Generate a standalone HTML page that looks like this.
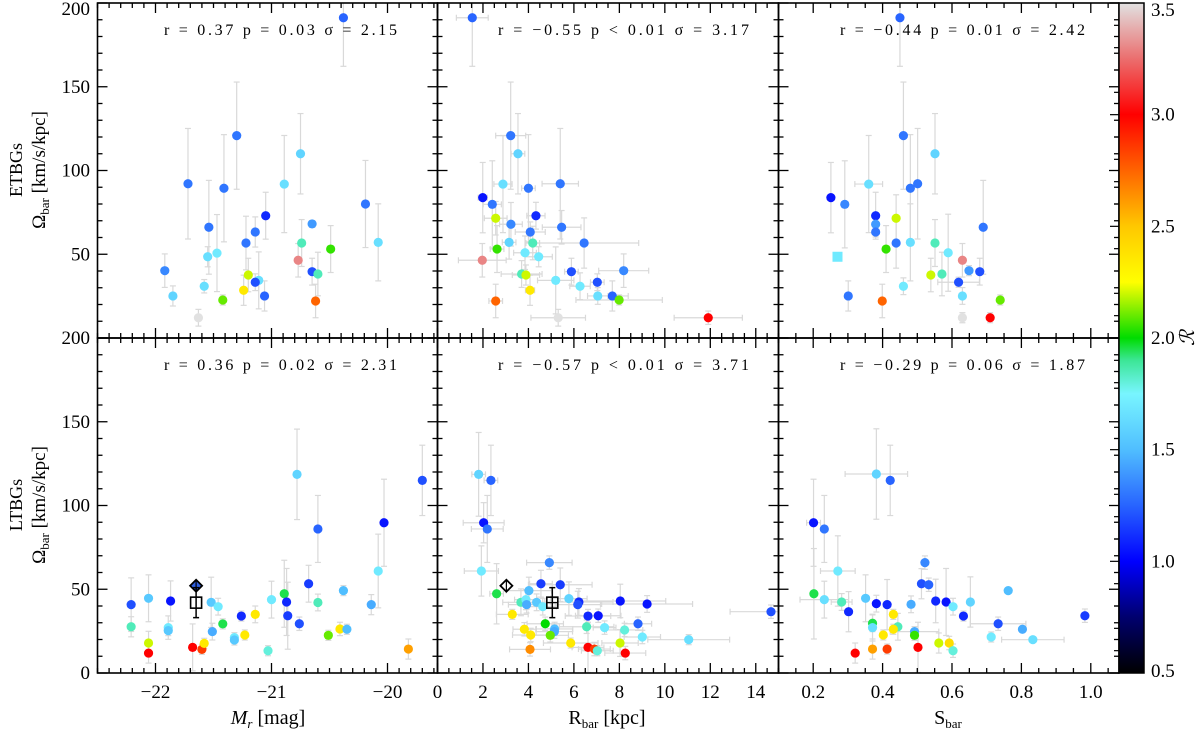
<!DOCTYPE html>
<html><head><meta charset="utf-8"><style>
body{margin:0;background:#fff}
svg{display:block}
text{font-family:"Liberation Serif","DejaVu Serif",serif;fill:#000}
</style></head><body>
<svg id="chart" width="1200" height="731" viewBox="0 0 1200 731" xmlns="http://www.w3.org/2000/svg">
<defs>
<linearGradient id="cbg" x1="0" y1="1" x2="0" y2="0">
<stop offset="0" stop-color="#000000"/><stop offset="0.0833" stop-color="#00006e"/><stop offset="0.1667" stop-color="#0000ff"/><stop offset="0.25" stop-color="#2864ff"/><stop offset="0.3333" stop-color="#50beff"/><stop offset="0.4167" stop-color="#78f5ff"/><stop offset="0.4667" stop-color="#3ce696"/><stop offset="0.5" stop-color="#00dc00"/><stop offset="0.5833" stop-color="#ffff00"/><stop offset="0.6667" stop-color="#ffc800"/><stop offset="0.75" stop-color="#ff6400"/><stop offset="0.8333" stop-color="#ff0000"/><stop offset="0.9167" stop-color="#eb6e6e"/><stop offset="1" stop-color="#e1e1e1"/>
</linearGradient>
</defs>
</svg>
<script>
// ---------- data ----------
const tlX=[-20.38,-21.30,-21.72,-21.41,-20.75,-20.89,-20.19,-20.08,-21.05,-21.54,-21.14,-20.65,-21.22,-20.74,-20.49,-21.47,-21.55,-21.92,-20.77,-20.65,-20.60,-21.20,-21.11,-21.14,-21.58,-21.24,-21.85,-21.06,-21.42,-20.62,-21.63];
const tlY=[191.2,120.8,92.1,89.4,110,91.9,80,57.1,73,66.1,63.3,68.1,56.7,56.7,53.1,50.7,48.5,40.2,46.4,39.6,38.2,37.6,34.4,33.3,30.9,28.5,25.1,25.1,22.7,22.1,12.1];
const tlC=[1.25,1.3,1.3,1.3,1.6,1.65,1.3,1.65,1.1,1.3,1.3,1.4,1.3,1.85,2.05,1.7,1.65,1.35,3.3,1.2,1.85,2.2,1.65,1.2,1.65,2.35,1.6,1.25,2.1,2.75,3.5];
const tlE=[29,32,33,32,24,29,26,23,14,28,9,2,16,14,14,23,6,10,10,8,13,10,17,5,4,9,6,9,3,10,5];

const tmX=[1.53,3.22,3.54,2.88,4.00,5.40,1.99,2.41,2.56,4.33,3.23,4.08,5.46,3.15,4.19,6.45,2.62,3.85,4.45,1.97,5.89,8.19,3.70,3.89,5.20,7.03,4.07,6.27,7.05,7.69,7.99,2.56,5.31,11.91];
const tmY=[191.2,120.8,110,91.9,89.4,92.1,83.8,79.8,71.5,73,67.9,63.3,66.1,57.1,56.7,56.7,53.1,50.9,48.5,46.4,39.6,40.2,38.2,37.6,34.4,33.3,28.5,30.9,25.1,25.1,22.7,22.1,12.1,12.1];
const tmXE=[0.7,0.66,0.3,0.4,0.3,0.8,0.2,0.4,0.5,0.4,0.5,0.66,0.85,0.3,0.3,2.4,0.3,0.5,0.6,1.05,0.3,1.1,0.9,0.6,0.8,0.3,0.2,0.45,0.45,0.7,1.9,0.3,1.2,1.5];
const tmYE=[29,32,24,29,32,33,21,26,10,8,13,6,10,10,10,15,14,10,6,10,8,10,8,6,20,5,9,8,5,9,3,10,5,4];
const tmC=[1.25,1.3,1.6,1.65,1.3,1.3,1.05,1.3,2.2,1.1,1.35,1.3,1.3,1.6,1.85,1.3,2.05,1.7,1.7,3.3,1.2,1.35,1.85,2.2,1.7,1.2,2.35,1.7,1.65,1.25,2.1,2.75,3.5,3.0];

const trX=[0.450,0.460,0.551,0.360,0.480,0.501,0.251,0.291,0.439,0.380,0.380,0.380,0.690,0.439,0.480,0.551,0.410,0.589,0.270,0.630,0.649,0.680,0.571,0.539,0.619,0.460,0.301,0.630,0.739,0.399,0.630,0.710];
const trY=[191.2,120.8,110,91.9,89.4,92.1,83.8,79.8,71.5,73,67.9,63.3,66.1,56.7,57.1,56.7,53.1,50.9,48.5,46.4,40.2,39.6,38.2,37.6,33.3,30.9,25.1,25.1,22.7,22.1,12.1,12.1];
const trXE=[0,0,0,0.04,0,0,0,0,0,0,0,0,0,0,0,0,0,0,0,0,0,0,0,0,0.06,0,0,0,0,0,0,0];
const trYE=[29,32,24,29,32,33,21,26,14,14,3,3,28,15,23,14,14,23,0,10,3,8,13,10,3,5,9,5,3,10,3,3];
const trC=[1.25,1.3,1.6,1.65,1.3,1.3,1.05,1.35,2.2,1.1,1.4,1.3,1.3,1.3,1.65,1.85,2.05,1.7,1.7,3.3,1.4,1.2,1.85,2.2,1.2,1.7,1.3,1.65,2.1,2.75,3.5,3.0];
const trSquare=[18];

const blX=[-22.21,-22.06,-21.87,-22.21,-22.06,-22.06,-21.89,-21.89,-21.68,-21.60,-21.58,-21.52,-21.46,-21.51,-21.42,-21.32,-21.32,-21.26,-21.23,-21.14,-21.03,-21.00,-20.89,-20.87,-20.86,-20.78,-20.76,-20.68,-20.60,-20.60,-20.51,-20.41,-20.35,-20.38,-20.14,-20.03,-20.08,-19.82,-19.70];
const blY=[40.8,44.6,43.0,27.6,17.9,11.9,27.1,25.3,15.3,14.1,17.7,42.2,39.6,24.7,29.3,21.1,19.7,34.0,22.7,35.0,13.3,43.8,47.3,42.4,34.2,118.6,29.4,53.3,86.0,42.1,22.5,26.3,26.1,49.2,40.8,89.7,60.9,14.3,115.0];
const blC=[1.2,1.55,1.05,1.85,2.2,3.0,1.7,1.55,3.0,2.85,2.35,1.55,1.7,1.45,1.95,1.7,1.55,1.1,2.35,2.35,1.8,1.7,1.95,1.1,1.15,1.6,1.2,1.15,1.25,1.85,2.1,2.35,1.5,1.5,1.45,1.05,1.7,2.6,1.2];
const blE=[16,14,12,6,7,6,7,3,14,3,3,15,5,5,3,3,3,3,3,5,3,11,20,20,20,27,4,11,20,5,3,4,3,3,6,26,22,6,21];

const bmX=[1.81,2.35,2.03,2.19,1.93,2.60,4.92,4.55,5.40,4.02,3.67,3.89,3.92,4.36,4.63,5.78,6.22,6.17,8.04,9.22,14.67,3.29,6.62,7.07,4.74,5.15,5.14,3.82,4.10,4.96,6.56,7.35,8.23,8.82,9.01,11.05,5.86,8.03,6.62,6.90,7.03,8.26,4.07];
const bmY=[118.6,115.0,89.7,86.0,60.9,47.3,65.9,53.3,52.7,49.2,42.2,43.8,40.8,42.2,39.6,44.4,42.4,40.8,43.0,41.2,36.6,35.0,34.0,34.2,29.4,26.3,24.7,26.1,22.7,22.5,27.6,27.1,25.7,29.4,21.5,19.9,17.9,17.9,15.3,14.3,13.3,11.9,14.1];
const bmC=[1.6,1.25,1.05,1.3,1.7,1.95,1.35,1.15,1.15,1.5,1.85,1.7,1.45,1.55,1.7,1.6,1.1,1.2,1.05,1.05,1.2,2.35,1.1,1.05,2.0,1.5,1.45,2.35,2.35,2.1,1.85,1.7,1.8,1.25,1.7,1.65,2.35,2.2,3.0,2.85,1.8,3.0,2.65];
const bmXE=[0.3,0.3,0.9,0.7,0.75,0.3,1.0,0.5,1.4,1.0,0.8,0.5,0.8,0.6,0.6,0.8,1.5,1.0,2.0,2.0,1.8,0.7,1.0,1.0,0.8,0.8,0.8,0.5,0.8,0.8,1.2,0.5,0.8,0.6,0.8,1.8,1.2,0.8,0.7,0.7,0.7,0.9,0.9];
const bmYE=[25,21,12,20,15,18,4,8,10,8,8,6,5,5,5,10,8,8,10,5,4,3,4,4,4,4,4,4,4,4,4,4,4,4,4,3,3,8,15,4,3,4,4];

const brX=[0.382,0.422,0.201,0.232,0.271,0.202,0.232,0.282,0.302,0.351,0.382,0.413,0.371,0.371,0.431,0.444,0.402,0.431,0.371,0.413,0.321,0.482,0.492,0.492,0.502,0.522,0.512,0.533,0.553,0.583,0.603,0.653,0.633,0.562,0.592,0.603,0.713,0.733,0.762,0.803,0.833,0.983];
const brY=[118.8,115.0,89.7,86.0,60.9,47.3,43.8,42.4,36.6,44.6,41.4,40.8,29.7,27.1,35.0,27.6,22.7,26.1,14.3,14.3,11.9,41.0,24.7,22.5,15.3,65.9,53.3,52.7,43.0,42.4,39.6,42.4,34.0,17.9,17.9,13.3,21.5,29.4,49.2,26.1,19.9,34.2];
const brC=[1.6,1.25,1.05,1.3,1.7,1.95,1.65,1.85,1.1,1.55,1.05,1.1,1.95,1.65,2.35,1.85,2.35,2.35,2.6,2.85,3.0,1.45,1.45,2.05,3.0,1.35,1.2,1.25,1.1,1.05,1.7,1.6,1.1,2.2,2.4,1.8,1.7,1.2,1.5,1.45,1.65,1.15];
const brXE=[0.09,0,0.02,0,0.05,0,0.07,0.03,0,0,0,0,0,0,0,0,0,0,0,0,0,0,0.07,0,0,0,0,0,0,0,0,0,0,0,0,0,0,0.08,0,0,0.09,0];
const brYE=[27,21,26,20,21,27,11,5,12,14,5,15,5,8,3,8,3,3,6,3,6,5,3,3,15,4,9,4,13,20,5,15,3,6,4,4,3,4,0,0,0,4];

const statTexts=["r = 0.37 p = 0.03 \u03c3 = 2.15","r = \u22120.55 p < 0.01   \u03c3 = 3.17","r = \u22120.44 p = 0.01 \u03c3 = 2.42",
"r = 0.36 p = 0.02 \u03c3 = 2.31","r = \u22120.57 p < 0.01   \u03c3 = 3.71","r = \u22120.29 p = 0.06 \u03c3 = 1.87"];
const yTicks=[0,50,100,150,200];
const cbTicks=[0.5,1.0,1.5,2.0,2.5,3.0,3.5];

// ---------- geometry ----------
const NS="http://www.w3.org/2000/svg";
const svg=document.getElementById('chart');
const cols=[[97.5,437.5],[437.5,778.5],[778.5,1119]];
const rows=[[3,338],[338,673]];
const xDom=[[-22.5,-19.569],[0,15.0],[0.1,1.0813]];
const xMajor=[[-22,-21,-20],[0,2,4,6,8,10,12,14],[0.2,0.4,0.6,0.8,1.0]];
const xMinorStep=[0.1,0.5,0.05];
const statPos=[[164,233],[498,251],[840,245]];
function el(tag,attrs,parent){const e=document.createElementNS(NS,tag);for(const k in attrs)e.setAttribute(k,attrs[k]);(parent||svg).appendChild(e);return e;}
function xs(c,v){const d=xDom[c];return cols[c][0]+(v-d[0])/(d[1]-d[0])*(cols[c][1]-cols[c][0]);}
function ys(r,v){return rows[r][1]-v/200*(rows[r][1]-rows[r][0]);}
const stops=[[0.5,0,0,0],[0.75,0,0,110],[1.0,0,0,255],[1.25,40,100,255],[1.5,80,190,255],[1.75,120,245,255],[1.9,60,230,150],[2.0,0,220,0],[2.25,255,255,0],[2.5,255,200,0],[2.75,255,100,0],[3.0,255,0,0],[3.25,235,110,110],[3.5,225,225,225]];
function cmap(v){v=Math.max(0.5,Math.min(3.5,v));for(let i=0;i<stops.length-1;i++){const a=stops[i],b=stops[i+1];if(v<=b[0]){const t=(v-a[0])/(b[0]-a[0]);return `rgb(${Math.round(a[1]+t*(b[1]-a[1]))},${Math.round(a[2]+t*(b[2]-a[2]))},${Math.round(a[3]+t*(b[3]-a[3]))})`;}}return 'rgb(225,225,225)';}

const panelNames=[['etbg-mr-panel','etbg-rbar-panel','etbg-sbar-panel'],['ltbg-mr-panel','ltbg-rbar-panel','ltbg-sbar-panel']];
const panelData=[
 [[tlX,tlY,null,tlE,tlC,[]],[tmX,tmY,tmXE,tmYE,tmC,[]],[trX,trY,trXE,trYE,trC,trSquare]],
 [[blX,blY,null,blE,blC,[]],[bmX,bmY,bmXE,bmYE,bmC,[]],[brX,brY,brXE,brYE,brC,[]]]];

for(let r=0;r<2;r++)for(let c=0;c<3;c++){
  const g=el('g',{});
  
  
  const [X,Y,XE,YE,C,sq]=panelData[r][c];
  const eg=el('g',{stroke:'#d9d9d9','stroke-width':1.2,fill:'none'},g);
  
  
  for(let i=0;i<X.length;i++){
    const px=xs(c,X[i]),py=ys(r,Y[i]);
    if(YE[i]>0){const y1=Math.max(rows[r][0],ys(r,Y[i]+YE[i])),y2=ys(r,Math.max(0,Y[i]-YE[i]));
      el('line',{x1:px,x2:px,y1:y1,y2:y2},eg);
      if(y1>rows[r][0]+0.5)el('line',{x1:px-3,x2:px+3,y1:y1,y2:y1},eg);
      el('line',{x1:px-3,x2:px+3,y1:y2,y2:y2},eg);}
    if(XE&&XE[i]>0){const x1=xs(c,X[i]-XE[i]),x2=Math.min(cols[c][1],xs(c,X[i]+XE[i]));
      el('line',{x1:x1,x2:x2,y1:py,y2:py},eg);
      el('line',{x1:x1,x2:x1,y1:py-3,y2:py+3},eg);el('line',{x1:x2,x2:x2,y1:py-3,y2:py+3},eg);}
  }
  for(let i=0;i<X.length;i++){
    const px=xs(c,X[i]),py=ys(r,Y[i]);let m;
    if(sq.indexOf(i)>=0){m=el('rect',{x:px-5,y:py-5,width:10,height:10,fill:cmap(C[i])},g);}
    else m=el('circle',{cx:px,cy:py,r:4.6,fill:cmap(C[i])},g);
    
    
  }
  const f=el('rect',{x:cols[c][0],y:rows[r][0],width:cols[c][1]-cols[c][0],height:rows[r][1]-rows[r][0],fill:'none',stroke:'#000','stroke-width':1.6},g);
  
  
  const tg=el('g',{stroke:'#000','stroke-width':1.3},g);
  
  
  const d=xDom[c];
  const st=xMinorStep[c];
  for(let v=Math.ceil(d[0]/st-1e-6)*st;v<=d[1]+1e-9;v+=st){
    const isMaj=xMajor[c].some(m=>Math.abs(m-v)<1e-6);const L=isMaj?10:5;const px=xs(c,v);
    el('line',{x1:px,x2:px,y1:rows[r][1],y2:rows[r][1]-L},tg);
    el('line',{x1:px,x2:px,y1:rows[r][0],y2:rows[r][0]+L},tg);
  }
  for(let v=0;v<=200;v+=10){const L=v%50===0?10:5;const py=ys(r,v);
    el('line',{x1:cols[c][0],x2:cols[c][0]+L,y1:py,y2:py},tg);
    el('line',{x1:cols[c][1],x2:cols[c][1]-L,y1:py,y2:py},tg);}
  const t=el('text',{x:statPos[c][0],y:rows[r][0]+32,'font-size':16,textLength:statPos[c][1],lengthAdjust:'spacing','xml:space':'preserve'},g);
  t.textContent=statTexts[r*3+c];
  
  
  if(c===0){
    for(const v of yTicks){ if(r===0&&v===0)continue;
      const lt=el('text',{x:90,y:Math.max(ys(r,v)+6,15),'text-anchor':'end','font-size':19},g);lt.textContent=String(v);
      
      }
  }
  if(r===1){
    for(const v of xMajor[c]){
      const lab=c===0?(v<0?'\u2212'+Math.abs(v):String(v)):(c===2?v.toFixed(1):String(v));
      const lt=el('text',{x:xs(c,v),y:698,'text-anchor':'middle','font-size':19},g);lt.textContent=lab;
      
      }
  }
}
function diamond(cx,cy,fill){const p=el('path',{d:`M${cx},${cy-6} L${cx+6},${cy} L${cx},${cy+6} L${cx-6},${cy} Z`,fill:fill,stroke:'#000','stroke-width':1.8});
  
  
  el('line',{x1:cx,x2:cx,y1:cy-6,y2:cy+6,stroke:'#000','stroke-width':1.2});}
function refsq(cx,cy,ye){el('line',{x1:cx,x2:cx,y1:cy-ye,y2:cy+ye,stroke:'#000','stroke-width':1.5});
  el('line',{x1:cx-3,x2:cx+3,y1:cy-ye,y2:cy-ye,stroke:'#000','stroke-width':1.5});el('line',{x1:cx-3,x2:cx+3,y1:cy+ye,y2:cy+ye,stroke:'#000','stroke-width':1.5});
  const s=el('rect',{x:cx-5.5,y:cy-5.5,width:11,height:11,fill:'none',stroke:'#000','stroke-width':1.6});
  
  }
diamond(xs(0,-21.65),ys(1,52.1),'#2f5fe0');
refsq(xs(0,-21.65),ys(1,42.0),15);
diamond(xs(1,3.03),ys(1,52.1),'#fff');
refsq(xs(1,5.05),ys(1,42.0),15);
el('line',{x1:xs(1,5.05)-5.5,x2:xs(1,5.05)+5.5,y1:ys(1,42.0),y2:ys(1,42.0),stroke:'#000','stroke-width':1.2});

function txt(x,y,s,size,attrs,name){const t=el('text',Object.assign({x:x,y:y,'font-size':size,'text-anchor':'middle'},attrs||{}));t.innerHTML=s;
  
  return t;}
txt(0,0,'ETBGs',18,{transform:'translate(22,170) rotate(-90)'},'etbg-row-label');
txt(0,0,'\u03a9<tspan font-size="13" dy="4">bar</tspan><tspan dy="-4"> [km/s/kpc]</tspan>',19,{transform:'translate(45,170) rotate(-90)'},'y-axis-title-top');
txt(0,0,'LTBGs',18,{transform:'translate(22,505) rotate(-90)'},'ltbg-row-label');
txt(0,0,'\u03a9<tspan font-size="13" dy="4">bar</tspan><tspan dy="-4"> [km/s/kpc]</tspan>',19,{transform:'translate(45,505) rotate(-90)'},'y-axis-title-bottom');
txt(268,724,'<tspan font-style="italic">M<tspan font-size="13" dy="4">r</tspan></tspan><tspan dy="-4"> [mag]</tspan>',20,{},'x-axis-title-mr');
txt(607,724,'R<tspan font-size="13" dy="4">bar</tspan><tspan dy="-4"> [kpc]</tspan>',20,{},'x-axis-title-rbar');
txt(948,724,'S<tspan font-size="13" dy="4">bar</tspan>',20,{},'x-axis-title-sbar');

const cb0=3,cb1=673,cbx=1119,cbw=25;
function cby(v){return cb1-(v-0.5)/3*(cb1-cb0);}
const cbr=el('rect',{x:cbx,y:cb0,width:cbw,height:cb1-cb0,fill:'url(#cbg)',stroke:'#000','stroke-width':1.5});


for(let v=0.5;v<=3.5001;v+=0.1){const maj=Math.abs(v*2-Math.round(v*2))<1e-6;const py=cby(v);
  el('line',{x1:cbx,x2:cbx-(maj?9:5),y1:py,y2:py,stroke:'#000','stroke-width':1.2});}
for(const v of cbTicks){const t=el('text',{x:1151,y:Math.min(Math.max(cby(v)+6,16),677),'font-size':19},svg);t.textContent=v.toFixed(1);
  
  }
txt(0,0,'\u211b',20,{transform:'translate(1194,338) rotate(-90)','font-style':'italic'},'colorbar-title');
</script>
</body></html>
